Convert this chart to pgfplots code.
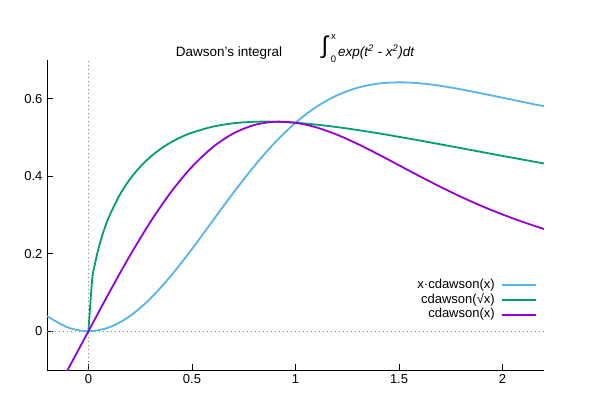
\documentclass[border=0pt]{standalone}
\usepackage{fontspec}
\setmainfont{Liberation Sans}
\usepackage{pgfplots}
\pgfplotsset{compat=1.18}
\definecolor{cblue}{HTML}{56B4E9}
\definecolor{cgreen}{HTML}{009E73}
\definecolor{cpurple}{HTML}{9400D3}
\begin{document}
\fontsize{13}{15}\selectfont
\begin{tikzpicture}
\begin{axis}[
 at={(0pt,0pt)}, anchor=south west,
 scale only axis, width=497pt, height=310pt,
 xmin=-0.2, xmax=2.2, ymin=-0.1, ymax=0.7,
 axis x line*=bottom, axis y line*=left,
 axis line style={line width=0.8pt,-},
 x axis line style={-}, y axis line style={-},
 xtick={0,0.5,1,1.5,2}, ytick={0,0.2,0.4,0.6},
 xticklabels={0,0.5,1,1.5,2}, yticklabels={0,0.2,0.4,0.6},
 tick align=inside, major tick length=6pt,
 tick style={black, line width=0.8pt},
 ticklabel style={font=\fontsize{13}{15}\selectfont},
 legend style={draw=none, fill=none, at={(0.986,0.226)}, anchor=east,
   inner sep=0pt, outer sep=0pt, row sep=2.2pt, column sep=6.5pt,
   nodes={inner sep=0pt, text height=9.5pt, text depth=3pt, font=\fontsize{13}{15}\selectfont}},
 legend cell align=right, legend plot pos=right,
 legend image code/.code={\draw[#1] (0pt,0pt) -- (34pt,0pt);},
]
\addplot[forget plot, gray, line width=0.7pt, dash pattern=on 0.8pt off 3.2pt] coordinates {(-0.2,0) (2.2,0)};
\addplot[forget plot, gray, line width=0.7pt, dash pattern=on 0.8pt off 3.2pt] coordinates {(0,-0.1) (0,0.7)};
\addplot[cblue, line width=1.8pt, smooth] coordinates {
(-0.2,0.03895) (-0.1,0.00993) (0,0) (0.1,0.00993) (0.2,0.03895) (0.3,0.08479)
(0.4,0.14398) (0.5,0.21222) (0.6,0.28486) (0.7,0.35735) (0.8,0.42568) (0.9,0.48665)
(1.0,0.53808) (1.1,0.57883) (1.2,0.60873) (1.3,0.62842) (1.4,0.63911) (1.5,0.64237)
(1.6,0.63990) (1.7,0.63335) (1.8,0.62418) (1.9,0.61355) (2.0,0.60268) (2.1,0.59148) (2.2,0.58060)};
\addlegendentry{x·cdawson(x)}
\addplot[cgreen, line width=1.8pt, smooth] coordinates {
(0,0) (0.018,0.1332) (0.03,0.1698) (0.05,0.2163) (0.075,0.2606) (0.1,0.2960) (0.15,0.3508)
(0.2,0.3921) (0.25,0.4244) (0.3,0.4503) (0.35,0.4711) (0.4,0.4880) (0.45,0.5016) (0.5,0.5125)
(0.6,0.5279) (0.7,0.5367) (0.8,0.5406) (0.9,0.5407) (1.0,0.5381) (1.1,0.5333) (1.2,0.5269)
(1.3,0.5193) (1.4,0.5109) (1.5,0.5017) (1.6,0.4922) (1.7,0.4824) (1.8,0.4725) (1.9,0.4625)
(2.0,0.4525) (2.1,0.4427) (2.2,0.4330)};
\addlegendentry{cdawson(√x)}
\addplot[cpurple, line width=1.8pt, smooth] coordinates {
(-0.2,-0.19475) (-0.1,-0.09934) (0,0) (0.1,0.09934) (0.2,0.19475) (0.3,0.28263) (0.4,0.35994)
(0.5,0.42444) (0.6,0.47476) (0.7,0.51050) (0.8,0.53210) (0.9,0.54072) (1.0,0.53808)
(1.1,0.52621) (1.2,0.50727) (1.3,0.48340) (1.4,0.45651) (1.5,0.42825) (1.6,0.39994)
(1.7,0.37256) (1.8,0.34677) (1.9,0.32292) (2.0,0.30134) (2.1,0.28166) (2.2,0.26391)};
\addlegendentry{cdawson(x)}
\end{axis}
\node[anchor=base, inner sep=0pt, font=\fontsize{13.5}{15}\selectfont] at (182pt,313pt) {Dawson's integral};
\node[inner sep=0pt] at (278pt,322.5pt) {\fontsize{24}{24}\selectfont ∫};
\node[inner sep=0pt, font=\fontsize{9.5}{10}\selectfont] at (286.5pt,333pt) {x};
\node[inner sep=0pt, font=\fontsize{9.5}{10}\selectfont] at (286.5pt,311pt) {0};
\node[anchor=base west, inner sep=0pt, font=\fontsize{13.5}{15}\selectfont] at (291pt,313pt) {\textit{exp(t\textsuperscript{2} - x\textsuperscript{2})dt}};
\pgfresetboundingbox
\path[use as bounding box] (-47pt,-30pt) rectangle (553pt,370pt);
\end{tikzpicture}
\end{document}
